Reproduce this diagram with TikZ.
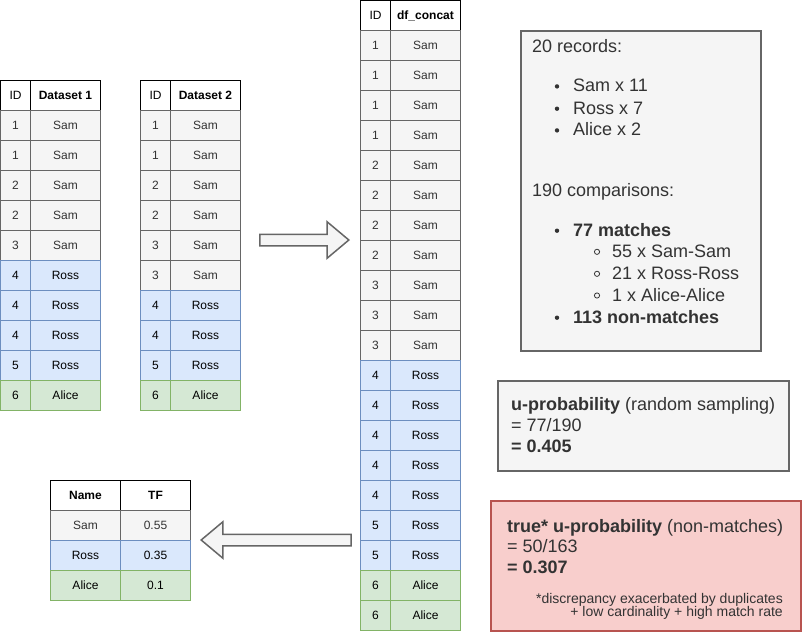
\documentclass[tikz,border=0pt]{standalone}
\usepackage{fontspec}
\setmainfont{Liberation Sans}
\usetikzlibrary{shapes.arrows}
\definecolor{SamFill}{HTML}{F5F5F5}
\definecolor{SamLine}{HTML}{666666}
\definecolor{SamText}{HTML}{333333}
\definecolor{RossFill}{HTML}{DAE8FC}
\definecolor{RossLine}{HTML}{6C8EBF}
\definecolor{AliceFill}{HTML}{D5E8D4}
\definecolor{AliceLine}{HTML}{82B366}
\definecolor{TrueFill}{HTML}{F8CECC}
\definecolor{TrueLine}{HTML}{B85450}
\tikzset{
  % Table cells
  cell/.style={rectangle, draw, line width=1pt, inner sep=0pt, minimum height=30pt, anchor=north west, font=\fontsize{12}{14}\selectfont},
  idcell/.style={cell, minimum width=30pt},
  namecell/.style={cell, minimum width=70pt},
  headrow/.style={draw=black, fill=white, text=black},
  samrow/.style={draw=SamLine, fill=SamFill, text=SamText},
  rossrow/.style={draw=RossLine, fill=RossFill, text=black},
  alicerow/.style={draw=AliceLine, fill=AliceFill, text=black},
  % Note boxes and their lines
  notebox/.style={rectangle, line width=2pt, draw=SamLine, fill=SamFill, inner sep=0pt, anchor=north west},
  truebox/.style={notebox, draw=TrueLine, fill=TrueFill},
  noteline/.style={anchor=base west, inner sep=0pt, text=SamText, font=\fontsize{18}{21}\selectfont},
  smallline/.style={anchor=base east, inner sep=0pt, text=SamText, font=\fontsize{14}{14}\selectfont},
  dot/.style={fill=SamText},
  ring/.style={draw=SamText, line width=0.8pt},
  % Block arrows
  blockarrow/.style={single arrow, draw=SamLine, fill=SamFill, line width=1.5pt, inner sep=0pt, inner ysep=5pt, single arrow head extend=12.5pt, single arrow tip angle=80, anchor=tip}
}
\begin{document}
\begin{tikzpicture}[x=1pt, y=-1pt]
  \useasboundingbox (0,0) rectangle (802,632);

  % Dataset 1
  \node[idcell, headrow] (aid0) at (0,80) {ID};
  \node[namecell, headrow] (aname0) at (30,80) {\textbf{Dataset 1}};
  \foreach \i/\id/\nm/\st in {1/1/Sam/samrow, 2/1/Sam/samrow, 3/2/Sam/samrow, 4/2/Sam/samrow, 5/3/Sam/samrow,
      6/4/Ross/rossrow, 7/4/Ross/rossrow, 8/4/Ross/rossrow, 9/5/Ross/rossrow, 10/6/Alice/alicerow} {
    \node[idcell, \st] (aid\i) at (0,{80+30*\i}) {\id};
    \node[namecell, \st] (aname\i) at (30,{80+30*\i}) {\nm};
  }

  % Dataset 2
  \node[idcell, headrow] (bid0) at (140,80) {ID};
  \node[namecell, headrow] (bname0) at (170,80) {\textbf{Dataset 2}};
  \foreach \i/\id/\nm/\st in {1/1/Sam/samrow, 2/1/Sam/samrow, 3/2/Sam/samrow, 4/2/Sam/samrow, 5/3/Sam/samrow,
      6/3/Sam/samrow, 7/4/Ross/rossrow, 8/4/Ross/rossrow, 9/5/Ross/rossrow, 10/6/Alice/alicerow} {
    \node[idcell, \st] (bid\i) at (140,{80+30*\i}) {\id};
    \node[namecell, \st] (bname\i) at (170,{80+30*\i}) {\nm};
  }

  % Concatenated table
  \node[idcell, headrow] (cid0) at (360,0) {ID};
  \node[namecell, headrow] (cname0) at (390,0) {\textbf{df\_concat}};
  \foreach \i/\id/\nm/\st in {1/1/Sam/samrow, 2/1/Sam/samrow, 3/1/Sam/samrow, 4/1/Sam/samrow,
      5/2/Sam/samrow, 6/2/Sam/samrow, 7/2/Sam/samrow, 8/2/Sam/samrow,
      9/3/Sam/samrow, 10/3/Sam/samrow, 11/3/Sam/samrow,
      12/4/Ross/rossrow, 13/4/Ross/rossrow, 14/4/Ross/rossrow, 15/4/Ross/rossrow, 16/4/Ross/rossrow,
      17/5/Ross/rossrow, 18/5/Ross/rossrow, 19/6/Alice/alicerow, 20/6/Alice/alicerow} {
    \node[idcell, \st] (cid\i) at (360,{30*\i}) {\id};
    \node[namecell, \st] (cname\i) at (390,{30*\i}) {\nm};
  }

  % Term frequency table
  \node[namecell, headrow] (tname0) at (50,480) {\textbf{Name}};
  \node[namecell, headrow] (tf0) at (120,480) {\textbf{TF}};
  \foreach \i/\nm/\tf/\st in {1/Sam/0.55/samrow, 2/Ross/0.35/rossrow, 3/Alice/0.1/alicerow} {
    \node[namecell, \st] (tname\i) at (50,{480+30*\i}) {\nm};
    \node[namecell, \st] (tf\i) at (120,{480+30*\i}) {\tf};
  }

  % Block arrows
  \node[blockarrow, minimum height=89pt] (concat) at (350,240) {};
  \node[blockarrow, minimum height=150pt, shape border rotate=180] (count) at (200,540) {};

  % Counts box
  \node[notebox, minimum width=240pt, minimum height=320pt] (counts) at (520,30) {};
  \node[noteline] (records) at (532,52.3) {20 records:};
  \foreach \n/\y/\t in {sam/91.7/Sam x 11, ross/114/Ross x 7, alice/135.7/Alice x 2} {
    \fill[dot] (557,{\y-5.3}) circle (2.2pt);
    \node[noteline] (rec\n) at (573,\y) {\t};
  }
  \node[noteline] (comps) at (532,196.7) {190 comparisons:};
  \fill[dot] (557,230.7) circle (2.2pt);
  \node[noteline] (matches) at (573,236) {\textbf{77 matches}};
  \foreach \n/\y/\t in {sam/257.3/55 x Sam-Sam, ross/279.3/21 x Ross-Ross, alice/301/1 x Alice-Alice} {
    \draw[ring] (597,{\y-5.5}) circle (2.6pt);
    \node[noteline] (pair\n) at (612,\y) {\t};
  }
  \fill[dot] (557,317.7) circle (2.2pt);
  \node[noteline] (nonmatches) at (573,323) {\textbf{113 non-matches}};

  % Sampled u-probability
  \node[notebox, minimum width=291pt, minimum height=90pt] (uprob) at (497,380) {};
  \node[noteline] (uprob1) at (511,410) {\textbf{u-probability} (random sampling)};
  \node[noteline] (uprob2) at (511,431) {= 77/190};
  \node[noteline] (uprob3) at (511,452) {\textbf{= 0.405}};

  % True u-probability
  \node[truebox, minimum width=310pt, minimum height=130pt] (utrue) at (490,500) {};
  \node[noteline] (utrue1) at (507,532) {\textbf{true* u-probability} (non-matches)};
  \node[noteline] (utrue2) at (507,552.5) {= 50/163};
  \node[noteline] (utrue3) at (507,573) {\textbf{= 0.307}};
  \node[smallline] (note1) at (783,603) {*discrepancy exacerbated by duplicates};
  \node[smallline] (note2) at (783,616.3) {+ low cardinality + high match rate};
\end{tikzpicture}
\end{document}
